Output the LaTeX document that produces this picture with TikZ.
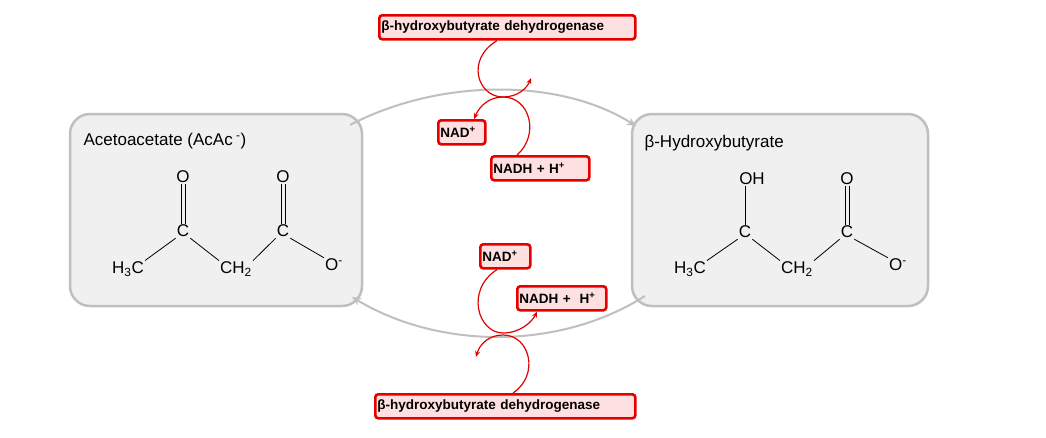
\documentclass[tikz,border=0pt]{standalone}
\usepackage{fontspec}
\setmainfont{Liberation Sans}
\usetikzlibrary{arrows.meta}
\begin{document}
\begin{tikzpicture}[x=1pt,y=-1pt,
  mol/.style={draw=black!25,line width=2.5pt,fill=black!6,rounded corners=20pt},
  lab/.style={draw=red!90!black,line width=2.6pt,fill=red!12!white,rounded corners=3pt,inner sep=2pt,font=\bfseries\fontsize{13.5}{14}\selectfont,anchor=north west,minimum height=24pt,text width=#1,align=left},
  lab/.default=40pt,
  atom/.style={font=\fontsize{17}{18}\selectfont,inner sep=1pt},
  bond/.style={line width=0.8pt},
  loop/.style={red!90!black,line width=1.2pt},
  larrow/.style={loop,-{Stealth[length=6pt,width=5pt]}},
  garrow/.style={black!25,line width=2pt,-{Stealth[length=9pt,width=8pt]}}]
\useasboundingbox (0,0) rectangle (1046,437);
% boxes
\node[mol,minimum width=292pt,minimum height=192pt] (L) at (216,210) {};
\node[mol,minimum width=296pt,minimum height=192pt] (R) at (780,210) {};
\node[font=\fontsize{17}{18}\selectfont,anchor=west] (Lt) at (80,141) {Acetoacetate (AcAc\textsuperscript{ -})};
\node[font=\fontsize{17}{18}\selectfont,anchor=west] (Rt) at (641,143) {β-Hydroxybutyrate};
% left molecule
\node[atom] (lO1) at (183,177) {O};
\node[atom] (lC1) at (183,231) {C};
\node[atom] (lMe) at (128,269) {H\textsubscript{3}C};
\node[atom] (lCH) at (236,269) {CH\textsubscript{2}};
\node[atom] (lC2) at (283,231) {C};
\node[atom] (lO2) at (283,177) {O};
\node[atom] (lOm) at (334,265) {O\textsuperscript{-}};
\draw[bond] ([xshift=-2pt]lO1.south) -- ([xshift=-2pt]lC1.north) ([xshift=2pt]lO1.south) -- ([xshift=2pt]lC1.north);
\draw[bond] ([xshift=-2pt]lO2.south) -- ([xshift=-2pt]lC2.north) ([xshift=2pt]lO2.south) -- ([xshift=2pt]lC2.north);
\draw[bond] (lMe.north east) -- (lC1.south west) (lC1.south east) -- (lCH.north west) (lCH.north east) -- (lC2.south west) (lC2.south east) -- (lOm.north west);
% right molecule
\node[atom] (rO1) at (752,179) {OH};
\node[atom] (rC1) at (745,232) {C};
\node[atom] (rMe) at (690,269) {H\textsubscript{3}C};
\node[atom] (rCH) at (797,269) {CH\textsubscript{2}};
\node[atom] (rC2) at (847,232) {C};
\node[atom] (rO2) at (847,179) {O};
\node[atom] (rOm) at (898,265) {O\textsuperscript{-}};
\draw[bond] (rO1.south -| rC1) -- (rC1.north);
\draw[bond] ([xshift=-2pt]rO2.south) -- ([xshift=-2pt]rC2.north) ([xshift=2pt]rO2.south) -- ([xshift=2pt]rC2.north);
\draw[bond] (rMe.north east) -- (rC1.south west) (rC1.south east) -- (rCH.north west) (rCH.north east) -- (rC2.south west) (rC2.south east) -- (rOm.north west);
% grey arcs
\draw[garrow] (350,125) .. controls (440,78) and (560,78) .. (636,126);
\draw[garrow] (645,296) .. controls (560,350) and (440,350) .. (352,297);
% top labels
\node[lab=252pt] (E1) at (378,14) {β-hydroxybutyrate dehydrogenase};
\node[lab=43pt] (N1) at (437,119) {NAD\textsuperscript{+}};
\node[lab=94pt] (H1) at (490,155) {NADH + H\textsuperscript{+}};
\draw[larrow] (E1.south -| 497,0) .. controls (465,60) and (478,97) .. (503,97) .. controls (518,97) and (527,88) .. (531,78);
\draw[larrow] (H1.north -| 517,0) .. controls (540,135) and (530,97) .. (503,97) .. controls (490,97) and (480,105) .. (N1.north -| 474,0);
% bottom labels
\node[lab=256pt] (E2) at (374,393) {β-hydroxybutyrate dehydrogenase};
\node[lab=46pt] (N2) at (479,243) {NAD\textsuperscript{+}};
\node[lab=85pt] (H2) at (516,285) {NADH +\ \ H\textsuperscript{+}};
\draw[larrow] (N2.south -| 497,0) .. controls (465,290) and (478,333) .. (503,333) .. controls (520,333) and (532,322) .. (H2.south -| 537,0);
\draw[larrow] (E2.north -| 513,0) .. controls (540,375) and (530,335) .. (503,335) .. controls (490,335) and (480,343) .. (476,357);
\end{tikzpicture}
\end{document}
